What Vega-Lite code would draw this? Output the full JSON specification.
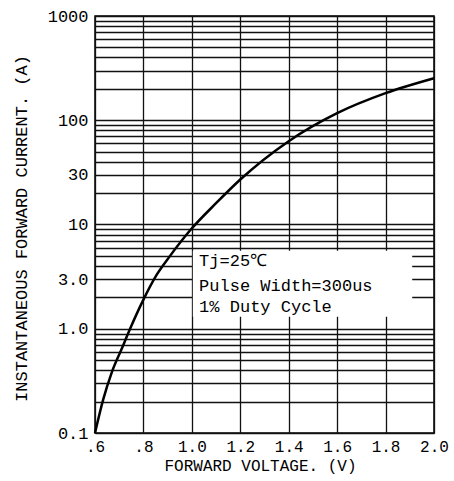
{
  "$schema": "https://vega.github.io/schema/vega-lite/v6.json",
  "width": 339,
  "height": 417,
  "autosize": "none",
  "padding": {"left": 95, "top": 16, "right": 20, "bottom": 48},
  "background": "white",
  "config": {
    "view": {"stroke": "#000", "strokeWidth": 1.5},
    "font": "Liberation Mono"
  },
  "datasets": {
    "curve": [
      {"v": 0.6, "i": 0.1},
      {"v": 0.634, "i": 0.21},
      {"v": 0.669, "i": 0.38},
      {"v": 0.71, "i": 0.64},
      {"v": 0.745, "i": 1.0},
      {"v": 0.795, "i": 1.8},
      {"v": 0.855, "i": 3.3},
      {"v": 0.91, "i": 5.0},
      {"v": 0.993, "i": 8.8},
      {"v": 1.1, "i": 16},
      {"v": 1.2, "i": 27},
      {"v": 1.4, "i": 63},
      {"v": 1.6, "i": 117},
      {"v": 1.8, "i": 182},
      {"v": 2.0, "i": 253}
    ],
    "box": [{"x1": 1.004, "x2": 1.91, "y1": 1.3, "y2": 5.6}],
    "notes": [
      {"v": 1.03, "i": 4.5, "t": "Tj=25℃"},
      {"v": 1.03, "i": 2.59, "t": "Pulse Width=300us"},
      {"v": 1.03, "i": 1.63, "t": "1% Duty Cycle"}
    ]
  },
  "layer": [
    {
      "data": {"name": "curve"},
      "mark": {"type": "line", "color": "#000", "strokeWidth": 2.5, "interpolate": "monotone"},
      "encoding": {
        "x": {
          "field": "v", "type": "quantitative",
          "scale": {"domain": [0.6, 2.0], "nice": false, "zero": false},
          "axis": {
            "values": [0.6, 0.8, 1.0, 1.2, 1.4, 1.6, 1.8, 2.0],
            "labelExpr": "datum.value < 0.7 ? '.6' : datum.value < 0.9 ? '.8' : format(datum.value, '.1f')",
            "grid": true, "gridColor": "#111", "gridWidth": 1.3, "gridOpacity": 1,
            "ticks": false, "domain": false,
            "labelFont": "Liberation Mono", "labelFontSize": 16, "labelColor": "#000",
            "labelPadding": 5, "labelOverlap": false, "labelFlush": false, "labelBound": false,
            "title": "FORWARD VOLTAGE. (V)",
            "titleFont": "Liberation Mono", "titleFontSize": 16, "titleFontWeight": "normal", "titleColor": "#000",
            "titleX": 165, "titleY": 32, "titleBaseline": "middle", "titleAlign": "center"
          }
        },
        "y": {
          "field": "i", "type": "quantitative",
          "scale": {"type": "log", "domain": [0.1, 1000], "nice": false},
          "axis": {
            "values": [0.1, 0.2, 0.3, 0.4, 0.5, 0.6, 0.7, 0.8, 0.9, 1, 2, 3, 4, 5, 6, 7, 8, 9, 10, 20, 30, 40, 50, 60, 70, 80, 90, 100, 200, 300, 400, 500, 600, 700, 800, 900, 1000],
            "labelExpr": "datum.value == 0.1 ? '0.1' : datum.value == 1 ? '1.0' : datum.value == 3 ? '3.0' : datum.value == 10 ? '10' : datum.value == 30 ? '30' : datum.value == 100 ? '100' : datum.value == 1000 ? '1000' : ''",
            "grid": true, "gridColor": "#111", "gridWidth": 1.3, "gridOpacity": 1,
            "ticks": false, "domain": false,
            "labelFont": "Liberation Mono", "labelFontSize": 17, "labelColor": "#000",
            "labelPadding": 7, "labelOverlap": false, "labelFlush": false, "labelBound": false,
            "title": "INSTANTANEOUS FORWARD CURRENT. (A)",
            "titleFont": "Liberation Mono", "titleFontSize": 17, "titleFontWeight": "normal", "titleColor": "#000",
            "titleX": -74, "titleY": 212, "titleAngle": -90, "titleBaseline": "middle", "titleAlign": "center"
          }
        }
      }
    },
    {
      "data": {"name": "box"},
      "mark": {"type": "rect", "fill": "white", "stroke": null},
      "encoding": {
        "x": {"field": "x1", "type": "quantitative"},
        "x2": {"field": "x2"},
        "y": {"field": "y1", "type": "quantitative"},
        "y2": {"field": "y2"}
      }
    },
    {
      "data": {"name": "notes"},
      "mark": {"type": "text", "align": "left", "baseline": "middle", "font": "Liberation Mono", "fontSize": 17, "color": "#000"},
      "encoding": {
        "x": {"field": "v", "type": "quantitative"},
        "y": {"field": "i", "type": "quantitative"},
        "text": {"field": "t"}
      }
    }
  ]
}
